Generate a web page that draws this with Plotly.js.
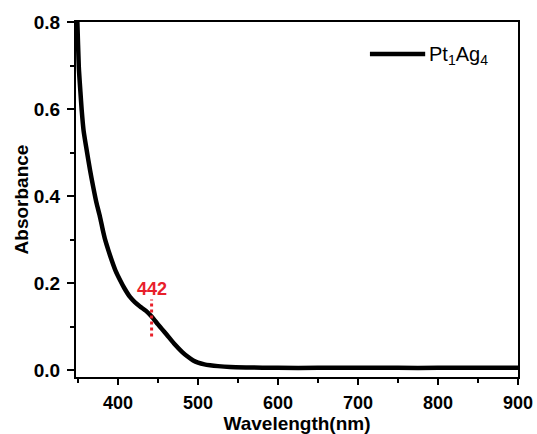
<!DOCTYPE html>
<html>
<head>
<meta charset="utf-8">
<script src="https://cdn.plot.ly/plotly-3.0.1.min.js"></script>
<style>html,body{margin:0;padding:0;background:#fff;}#chart{width:537px;height:434px;}</style>
</head>
<body>
<div id="chart"></div>
<script>
// Wavelength (nm)
const wavelength = [348, 349.2, 351, 353, 354.6, 357, 360.8, 365, 369, 373, 377.5, 381, 384, 388, 392, 397, 402.5, 408, 415, 421, 427.5, 435, 442, 450, 455, 461, 470, 480, 487, 494, 500, 508, 515, 525, 540, 560, 600, 650, 700, 750, 800, 850, 900];
// Absorbance
const absorbance = [0.86, 0.80, 0.697, 0.64, 0.598, 0.55, 0.506, 0.46, 0.421, 0.385, 0.352, 0.322, 0.299, 0.275, 0.253, 0.228, 0.207, 0.188, 0.168, 0.156, 0.146, 0.136, 0.123, 0.105, 0.094, 0.081, 0.061, 0.042, 0.031, 0.022, 0.017, 0.013, 0.011, 0.009, 0.007, 0.006, 0.005, 0.005, 0.0055, 0.005, 0.005, 0.0055, 0.005];
const seriesName = "Pt<sub>1</sub>Ag<sub>4</sub>";
const peakWavelength = 442;
const peakLabel = "442";
const peakMarkRange = [0.077, 0.162];
const xTicks = [400, 500, 600, 700, 800, 900];
const yTicks = [0.0, 0.2, 0.4, 0.6, 0.8];

const font = "Arial, 'Liberation Sans', sans-serif";

const trace = {
  x: wavelength, y: absorbance, type: 'scatter', mode: 'lines',
  name: seriesName, showlegend: false,
  line: {color: '#000', width: 4.5, shape: 'spline', smoothing: 0.6}
};

// legend sample line (drawn as shape in paper coords) + legend text
const legendY = 0.91;

const layout = {
  width: 537, height: 434,
  margin: {l: 76, r: 19, t: 22, b: 57},
  paper_bgcolor: '#fff', plot_bgcolor: '#fff',
  font: {family: font, color: '#000'},
  showlegend: false,
  xaxis: {
    range: [347.5, 900], tickvals: xTicks, ticktext: xTicks.map(String),
    ticks: 'outside', ticklen: 6, tickwidth: 2, tickcolor: '#000',
    ticklabelstandoff: 2,
    showline: true, linecolor: '#000', linewidth: 2, mirror: true,
    showgrid: false, zeroline: false,
    tickfont: {family: font, size: 18, color: '#000', weight: 'bold'},
    minor: {dtick: 50, tick0: 350, ticks: 'outside', ticklen: 4, tickwidth: 2, tickcolor: '#000', showgrid: false},
    title: {text: 'Wavelength(nm)', font: {family: font, size: 19, color: '#000', weight: 'bold'}, standoff: 2}
  },
  yaxis: {
    range: [-0.016, 0.8], tickvals: yTicks, ticktext: yTicks.map(v => v.toFixed(1)),
    ticks: 'outside', ticklen: 7, tickwidth: 2, tickcolor: '#000',
    ticklabelstandoff: 3,
    showline: true, linecolor: '#000', linewidth: 2, mirror: true,
    showgrid: false, zeroline: false,
    tickfont: {family: font, size: 19, color: '#000', weight: 'bold'},
    minor: {dtick: 0.1, tick0: 0, ticks: 'outside', ticklen: 4, tickwidth: 2, tickcolor: '#000', showgrid: false},
    title: {text: 'Absorbance', font: {family: font, size: 19, color: '#000', weight: 'bold'}, standoff: 0}
  },
  shapes: [{
    type: 'line', xref: 'x', yref: 'y',
    x0: peakWavelength, x1: peakWavelength, y0: peakMarkRange[0], y1: peakMarkRange[1],
    line: {color: '#e8202a', width: 3, dash: 'dot'}
  }, {
    type: 'line', xref: 'paper', yref: 'paper',
    x0: 0.665, x1: 0.79, y0: legendY, y1: legendY,
    line: {color: '#000', width: 4.5}
  }],
  annotations: [{
    x: peakWavelength, y: peakMarkRange[1], xref: 'x', yref: 'y',
    text: peakLabel, showarrow: false, yanchor: 'bottom', yshift: -1,
    font: {family: font, size: 18, color: '#e8202a', weight: 'bold'}
  }, {
    x: 0.794, y: legendY, xref: 'paper', yref: 'paper',
    text: seriesName, showarrow: false, xanchor: 'left', yanchor: 'middle', yshift: -2,
    font: {family: font, size: 20, color: '#000'}
  }]
};

Plotly.newPlot('chart', [trace], layout, {displayModeBar: false, staticPlot: true});
</script>
</body>
</html>
